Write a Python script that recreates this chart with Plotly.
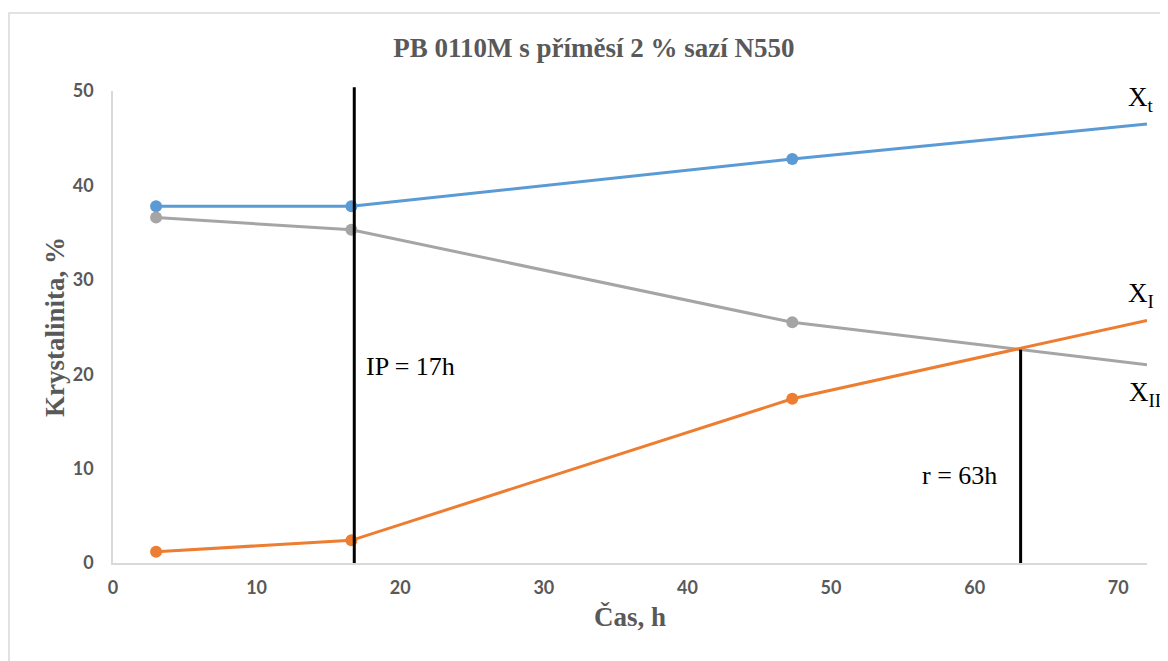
import plotly.graph_objects as go

# Data
time_h = [3.0, 16.6, 47.3, 72.0]
xt = [37.8, 37.8, 42.8, 46.5]
x_ii = [36.6, 35.3, 25.5, 21.0]
x_i = [1.2, 2.4, 17.4, 25.7]
marker_points = 3  # last point is line end without marker

ip_time = 16.8
r_time = 63.2
r_value = 22.6

x_ticks = [0, 10, 20, 30, 40, 50, 60, 70]
y_ticks = [0, 10, 20, 30, 40, 50]

series = [
    ("X_t", xt, "#5B9BD5"),
    ("X_II", x_ii, "#A5A5A5"),
    ("X_I", x_i, "#ED7D31"),
]

fig = go.Figure()
for name, vals, color in series:
    fig.add_trace(go.Scatter(
        x=time_h, y=vals, mode="lines",
        line=dict(color=color, width=3), name=name, showlegend=False,
        hoverinfo="skip"))
    fig.add_trace(go.Scatter(
        x=time_h[:marker_points], y=vals[:marker_points], mode="markers",
        marker=dict(color=color, size=12), name=name, showlegend=False,
        cliponaxis=False))

# vertical lines
fig.add_shape(type="line", xref="x", yref="paper", x0=ip_time, x1=ip_time,
              y0=0, y1=1.008, line=dict(color="black", width=3))
fig.add_shape(type="line", xref="x", yref="y", x0=r_time, x1=r_time,
              y0=0, y1=r_value, line=dict(color="black", width=3))

# outer chart border
fig.add_shape(type="rect", xref="paper", yref="paper",
              x0=-0.1006, x1=1.05, y0=-0.3, y1=1.165,
              line=dict(color="#D9D9D9", width=1.5), fillcolor="rgba(0,0,0,0)")

serif = "Liberation Serif, Times New Roman, serif"
lab_font = dict(family=serif, size=27, color="black")
fig.add_annotation(x=72, y=46.5, xref="x", yref="y", text="X<sub>t</sub>",
                   showarrow=False, xanchor="center", yanchor="bottom",
                   xshift=-6, yshift=6, font=lab_font)
fig.add_annotation(x=72, y=25.7, xref="x", yref="y", text="X<sub>I</sub>",
                   showarrow=False, xanchor="center", yanchor="bottom",
                   xshift=-6, yshift=6, font=lab_font)
fig.add_annotation(x=72, y=21.0, xref="x", yref="y", text="X<sub>II</sub>",
                   showarrow=False, xanchor="center", yanchor="top",
                   xshift=-2, yshift=-10, font=lab_font)
fig.add_annotation(x=ip_time, y=20.8, xref="x", yref="y", text="IP = 17h",
                   showarrow=False, xanchor="left", yanchor="middle", xshift=10,
                   font=dict(family=serif, size=26, color="black"))
fig.add_annotation(x=r_time, y=9.3, xref="x", yref="y", text="r = 63h",
                   showarrow=False, xanchor="right", yanchor="middle", xshift=-22,
                   font=dict(family=serif, size=26, color="black"))

tick_font = dict(family="Lato, Open Sans, sans-serif", size=18,
                 color="#595959", weight="bold")
title_font = dict(family=serif, size=27, color="#595959", weight="bold")

# y-axis title as rotated annotation
fig.add_annotation(x=-0.056, y=0.5, xref="paper", yref="paper",
                   text="Krystalinita, %", textangle=-90, showarrow=False,
                   xanchor="center", yanchor="middle", font=title_font)

fig.update_layout(
    width=1160, height=653,
    margin=dict(l=105, r=21, t=83, b=98),
    paper_bgcolor="white", plot_bgcolor="white",
    title=dict(text="PB 0110M s příměsí 2 % sazí N550", x=0.505, xref="container",
               y=0.939, yref="container", xanchor="center", yanchor="middle",
               font=title_font),
    xaxis=dict(range=[0, 72], tickvals=x_ticks, showgrid=False, zeroline=False,
               showline=True, linecolor="#D9D9D9", linewidth=1.5,
               ticks="outside", ticklen=8, tickcolor="rgba(0,0,0,0)",
               tickfont=tick_font,
               title=dict(text="Čas, h", standoff=10, font=title_font)),
    yaxis=dict(range=[0, 50], tickvals=y_ticks, showgrid=False, zeroline=False,
               showline=True, linecolor="#D9D9D9", linewidth=1.5,
               ticks="outside", ticklen=14, tickcolor="rgba(0,0,0,0)",
               tickfont=tick_font),
)

fig.write_html("out.html")
